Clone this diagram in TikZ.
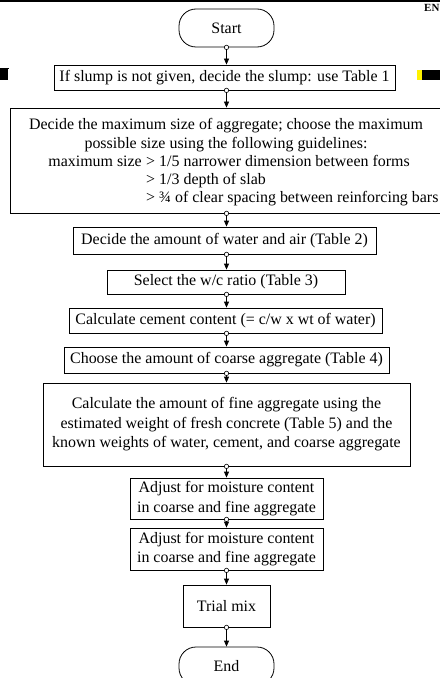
\documentclass[tikz,border=0pt]{standalone}
\usepackage{fontspec}
\setmainfont{Liberation Serif}
\usetikzlibrary{arrows.meta}
\begin{document}
\begin{tikzpicture}[x=1bp,y=-1bp,
  box/.style={draw, line width=0.8bp, inner sep=0, align=center, font=\fontsize{16}{19.5}\selectfont},
  term/.style={box, rounded corners=17bp},
  txt/.style={inner sep=0, font=\fontsize{16}{18}\selectfont},
  conn/.style={line width=0.8bp, -{Triangle[length=6bp,width=5bp]}},
  dotc/.style={fill=white, draw, line width=0.6bp}]
\useasboundingbox (0,0) rectangle (440,678);
% page artifacts
\fill (0,0) rectangle (440,2.5);
\node[anchor=north west, inner sep=0, font=\bfseries\fontsize{11}{11}\selectfont] (en) at (424,4) {EN};
\draw[line width=0.6bp] (0,68) -- (9,68);
\fill (0,69) rectangle (8,80);
\fill[yellow] (417,70) rectangle (422,80);
\fill (422,70) rectangle (440,80);
\coordinate (ax) at (226.5,0);
% nodes
\node[term, minimum width=95bp, minimum height=38bp] (start) at (226.5,28) {Start};
\node[box, minimum width=341bp, minimum height=25bp] (b1) at (224.5,77.5) {If slump is not given, decide the slump: use Table 1};
\node[box, minimum width=432bp, minimum height=105bp] (b2) at (226,160.5) {};
\node[txt, anchor=base] (l1) at (226,130) {Decide the maximum size of aggregate; choose the maximum};
\node[txt, anchor=base] (l2) at (226,148) {possible size using the following guidelines:};
\node[txt, anchor=base east] (l3a) at (142,166) {maximum size};
\node[txt, anchor=base west] (l3b) at (146,166) {> 1/5 narrower dimension between forms};
\node[txt, anchor=base west] (l4) at (146,184) {> 1/3 depth of slab};
\node[txt, anchor=base west] (l5) at (146,202) {> ¾ of clear spacing between reinforcing bars};
\node[box, minimum width=303bp, minimum height=27bp] (b3) at (224.5,240.5) {Decide the amount of water and air (Table 2)};
\node[box, minimum width=238bp, minimum height=24bp] (b4) at (226,282) {Select the w/c ratio (Table 3)};
\node[box, minimum width=313bp, minimum height=25bp] (b5) at (225.5,320.5) {Calculate cement content (= c/w x wt of water)};
\node[box, minimum width=325bp, minimum height=26bp] (b6) at (226.5,360) {Choose the amount of coarse aggregate (Table 4)};
\node[box, minimum width=367bp, minimum height=83bp] (b7) at (226.5,424.5) {Calculate the amount of fine aggregate using the\\estimated weight of fresh concrete (Table 5) and the\\known weights of water, cement, and coarse aggregate};
\node[box, minimum width=193bp, minimum height=41bp] (b8) at (226.5,498.5) {Adjust for moisture content\\in coarse and fine aggregate};
\node[box, minimum width=193bp, minimum height=42bp] (b9) at (226.5,549) {Adjust for moisture content\\in coarse and fine aggregate};
\node[box, minimum width=87bp, minimum height=42bp] (b10) at (226.5,606) {Trial mix};
\node[term, minimum width=95bp, minimum height=38bp] (end) at (226.5,666) {End};
% connectors
\foreach \a/\b in {start/b1, b1/b2, b2/b3, b3/b4, b4/b5, b5/b6, b6/b7, b7/b8, b8/b9, b9/b10, b10/end}{
  \draw[conn] (\a.south -| ax) -- (\b.north -| ax);
  \draw[dotc] (\a.south -| ax) circle (2.2bp);
}
\end{tikzpicture}
\end{document}
